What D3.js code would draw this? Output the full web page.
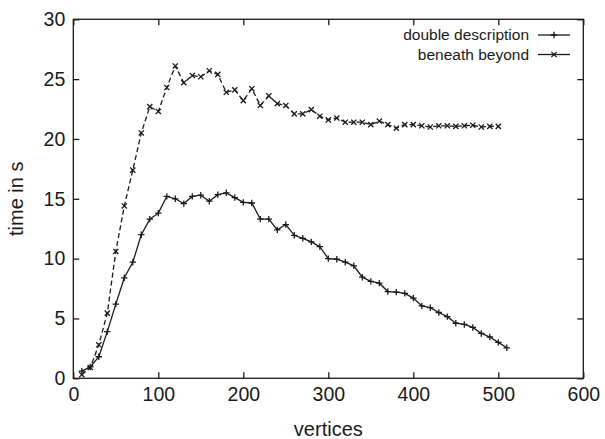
<!DOCTYPE html>
<html>
<head>
<meta charset="utf-8">
<script src="https://cdn.jsdelivr.net/npm/d3@7"></script>
<style>
  html, body { margin: 0; padding: 0; background: #fff; }
  svg { display: block; font-family: "Liberation Sans", Arial, Helvetica, sans-serif; }
</style>
</head>
<body>
<svg id="chart" width="605" height="439"></svg>
<script>
// ---- data ----
const ddVertices = d3.range(10, 511, 10);
const ddTimes = [0.6, 0.95, 1.8, 3.9, 6.2, 8.4, 9.7, 12.0, 13.3, 13.8,
  15.2, 15.0, 14.6, 15.2, 15.3, 14.8, 15.35, 15.5, 15.1, 14.7,
  14.65, 13.3, 13.3, 12.4, 12.85, 11.95, 11.7, 11.4, 11.0, 10.0,
  9.95, 9.7, 9.4, 8.45, 8.1, 7.95, 7.25, 7.2, 7.1, 6.7,
  6.05, 5.9, 5.5, 5.15, 4.6, 4.5, 4.25, 3.75, 3.45, 3.0, 2.55];
const bbVertices = d3.range(10, 501, 10);
const bbTimes = [0.3, 0.9, 2.8, 5.45, 10.6, 14.4, 17.4, 20.5, 22.7, 22.3,
  24.3, 26.1, 24.7, 25.3, 25.2, 25.7, 25.4, 23.9, 24.1, 23.2,
  24.2, 22.8, 23.6, 22.95, 22.8, 22.1, 22.1, 22.45, 21.9, 21.6,
  21.75, 21.4, 21.4, 21.4, 21.2, 21.5, 21.2, 20.9, 21.2, 21.2,
  21.1, 21.0, 21.1, 21.1, 21.05, 21.1, 21.15, 21.0, 21.05, 21.05];
const xTicks = [0, 100, 200, 300, 400, 500, 600];
const yTicks = [0, 5, 10, 15, 20, 25, 30];
const seriesNames = ["double description", "beneath beyond"];

// ---- layout ----
const svg = d3.select("#chart");
const mLeft = 73.3, mRight = 583.3, mTop = 19.3, mBottom = 378.3;
const ink = "#1a1a1a";
const x = d3.scaleLinear().domain([0, 600]).range([mLeft, mRight]);
const y = d3.scaleLinear().domain([0, 30]).range([mBottom, mTop]);
const tickLen = 6;

// frame
svg.append("rect").attr("x", mLeft).attr("y", mTop)
  .attr("width", mRight - mLeft).attr("height", mBottom - mTop)
  .attr("fill", "none").attr("stroke", ink).attr("stroke-width", 1.3);

// axes (inward ticks, mirrored)
const fontTick = 19.5;
const bAxis = svg.append("g").attr("transform", `translate(0,${mBottom})`)
  .call(d3.axisBottom(x).tickValues(xTicks).tickSize(-tickLen).tickPadding(10).tickSizeOuter(0));
const tAxis = svg.append("g").attr("transform", `translate(0,${mTop})`)
  .call(d3.axisTop(x).tickValues(xTicks).tickSize(-tickLen).tickFormat("").tickSizeOuter(0));
const lAxis = svg.append("g").attr("transform", `translate(${mLeft},0)`)
  .call(d3.axisLeft(y).tickValues(yTicks).tickSize(-tickLen).tickPadding(8).tickSizeOuter(0));
const rAxis = svg.append("g").attr("transform", `translate(${mRight},0)`)
  .call(d3.axisRight(y).tickValues(yTicks).tickSize(-tickLen).tickFormat("").tickSizeOuter(0));
[bAxis, tAxis, lAxis, rAxis].forEach(g => {
  g.select(".domain").remove();
  g.selectAll(".tick line").attr("stroke", ink).attr("stroke-width", 1.3);
  g.selectAll(".tick text").attr("fill", ink).attr("font-size", fontTick)
    .attr("font-family", "'Liberation Sans', Arial, sans-serif");
});
bAxis.selectAll(".tick text").attr("dy", "0.71em").attr("y", 9);
lAxis.selectAll(".tick text").attr("x", -8);

// axis titles
svg.append("text").attr("x", (mLeft + mRight) / 2).attr("y", 436)
  .attr("text-anchor", "middle").attr("font-size", 20).attr("fill", ink).text("vertices");
svg.append("text").attr("transform", `translate(23,${(mTop + mBottom) / 2}) rotate(-90)`)
  .attr("text-anchor", "middle").attr("font-size", 20).attr("fill", ink).text("time in s");

// series
const ddData = ddVertices.map((v, i) => [v, ddTimes[i]]);
const bbData = bbVertices.map((v, i) => [v, bbTimes[i]]);
const line = d3.line().x(d => x(d[0])).y(d => y(d[1]));

svg.append("path").datum(ddData).attr("d", line)
  .attr("fill", "none").attr("stroke", ink).attr("stroke-width", 1.3);
svg.append("path").datum(bbData).attr("d", line)
  .attr("fill", "none").attr("stroke", ink).attr("stroke-width", 1.3)
  .attr("stroke-dasharray", "5,3");

const plus = (g, cx, cy, s) => {
  g.append("path").attr("d", `M${cx - s},${cy}H${cx + s}M${cx},${cy - s}V${cy + s}`)
    .attr("stroke", ink).attr("stroke-width", 1.3).attr("fill", "none");
};
const cross = (g, cx, cy, s) => {
  g.append("path").attr("d", `M${cx - s},${cy - s}L${cx + s},${cy + s}M${cx - s},${cy + s}L${cx + s},${cy - s}`)
    .attr("stroke", ink).attr("stroke-width", 1.3).attr("fill", "none");
};
const mk = svg.append("g");
ddData.forEach(d => plus(mk, x(d[0]), y(d[1]), 3.2));
bbData.forEach(d => cross(mk, x(d[0]), y(d[1]), 2.6));

// legend
const lg = svg.append("g");
const legY = [35, 54.5];
seriesNames.forEach((name, i) => {
  lg.append("text").attr("x", 529).attr("y", legY[i]).attr("dy", "0.35em")
    .attr("text-anchor", "end").attr("font-size", 15.5).attr("fill", ink).text(name);
  lg.append("line").attr("x1", 538).attr("x2", 570).attr("y1", legY[i]).attr("y2", legY[i])
    .attr("stroke", ink).attr("stroke-width", 1.3);
  if (i === 0) plus(lg, 554, legY[i], 3.2); else cross(lg, 554, legY[i], 2.6);
});
</script>
</body>
</html>
